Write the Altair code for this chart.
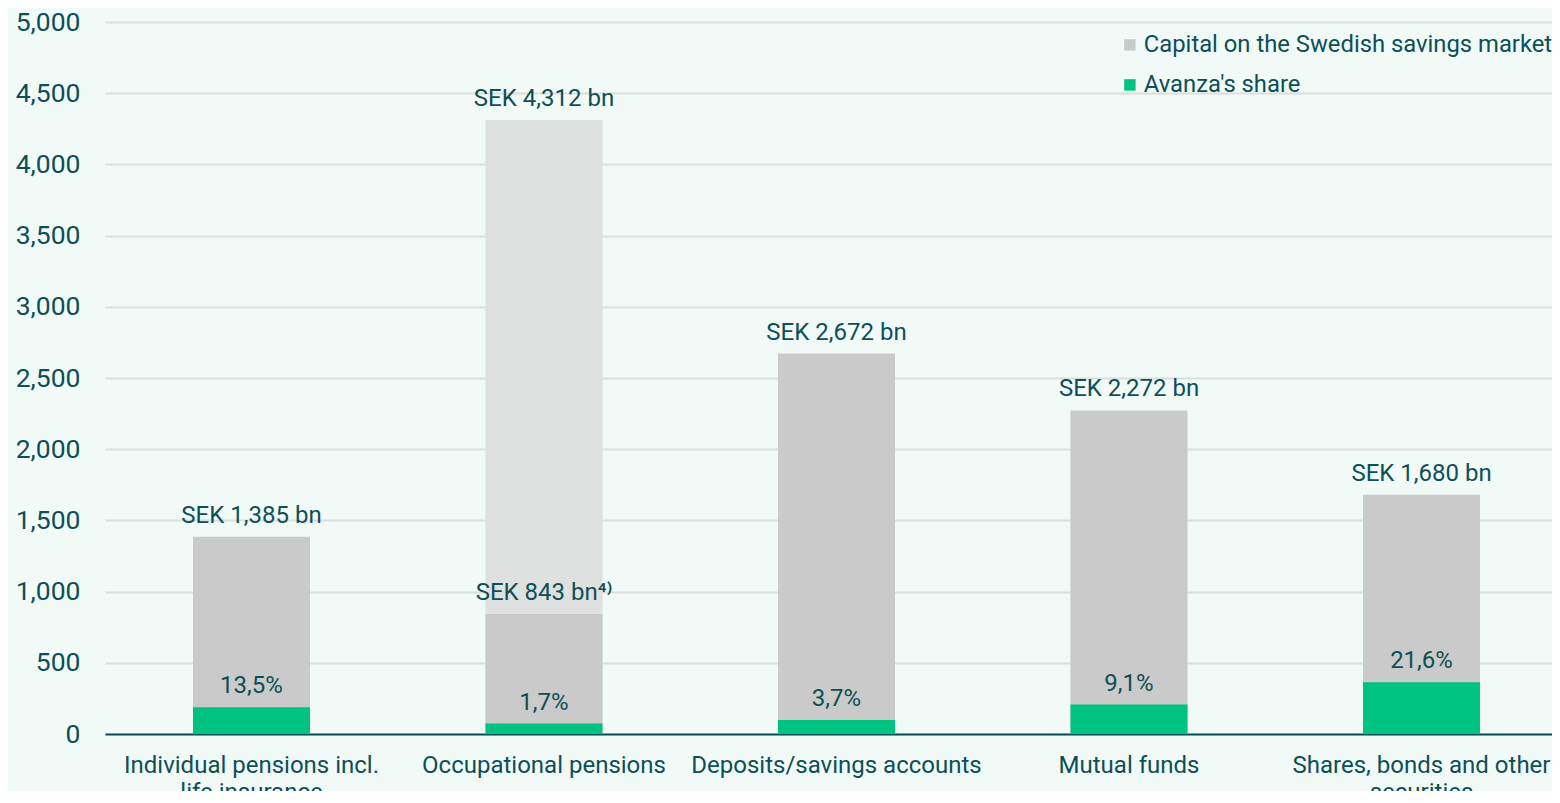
import altair as alt
import pandas as pd

categories = ["Individual pensions incl.\nlife insurance", "Occupational pensions",
              "Deposits/savings accounts", "Mutual funds", "Shares, bonds and other\nsecurities"]
capital = [1385, 843, 2672, 2272, 1680]
capital_labels = ["SEK 1,385 bn", "SEK 843 bn⁴⁾", "SEK 2,672 bn", "SEK 2,272 bn", "SEK 1,680 bn"]
share = [187, 73, 99, 207, 363]
share_labels = ["13,5%", "1,7%", "3,7%", "9,1%", "21,6%"]
total_cat = ["Occupational pensions"]
total_val = [4312]
total_labels = ["SEK 4,312 bn"]
series = ["Capital on the Swedish savings market", "Avanza's share"]
y_ticks = [0, 500, 1000, 1500, 2000, 2500, 3000, 3500, 4000, 4500, 5000]

TEXT = "#0d4f57"
FONT = "Roboto"
FS = 24

df_cap = pd.DataFrame({"cat": categories, "value": capital, "label": capital_labels, "series": series[0]})
df_share = pd.DataFrame({"cat": categories, "value": share, "label": share_labels, "series": series[1]})
df_tot = pd.DataFrame({"cat": total_cat, "value": total_val, "label": total_labels})

x = alt.X("cat:N", sort=categories, title=None,
          scale=alt.Scale(paddingInner=0.6, paddingOuter=0.2735, align=0.55),
          axis=alt.Axis(labelAngle=0, labelExpr="split(datum.label, '\\n')", labelFont=FONT,
                        labelFontSize=FS, labelColor=TEXT, labelPadding=19, labelLineHeight=27,
                        labelLimit=0, ticks=False, domainColor=TEXT, domainWidth=2, grid=False,
                        labelBaseline="top"))
y = alt.Y("value:Q", title=None, scale=alt.Scale(domain=[0, 5000]),
          axis=alt.Axis(values=y_ticks, labelExpr="format(datum.value, ',')", labelFont=FONT,
                        labelFontSize=26.5, labelColor=TEXT, labelPadding=25, ticks=False,
                        domain=False, gridColor="#dcdedd", gridWidth=2))

color = alt.Color("series:N", title=None,
                  scale=alt.Scale(domain=series, range=["#cacaca", "#00c281"]),
                  legend=alt.Legend(orient="none", legendX=1013, legendY=11, symbolType="square",
                                    symbolSize=130, symbolStrokeWidth=0, labelFont=FONT,
                                    labelFontSize=23.8, labelColor=TEXT, rowPadding=15,
                                    padding=0, labelOffset=2, labelLimit=0))

tot_bar = alt.Chart(df_tot).mark_bar(color="#dfe1e0").encode(x=x, y=y)
tot_txt = alt.Chart(df_tot).mark_text(font=FONT, fontSize=FS, color=TEXT, dy=-21).encode(
    x=x, y=y, text="label:N")
cap_bar = alt.Chart(df_cap).mark_bar().encode(x=x, y=y, color=color)
cap_txt = alt.Chart(df_cap).mark_text(font=FONT, fontSize=FS, color=TEXT, dy=-21).encode(
    x=x, y=y, text="label:N")
sh_bar = alt.Chart(df_share).mark_bar().encode(x=x, y=y, color=color)
sh_txt = alt.Chart(df_share).mark_text(font=FONT, fontSize=FS, color=TEXT, dy=-21).encode(
    x=x, y=y, text="label:N")

chart = alt.layer(tot_bar, cap_bar, sh_bar, tot_txt, cap_txt, sh_txt).properties(
    width=1447, height=712,
    autosize=alt.AutoSizeParams(type="none"),
    padding={"left": 97, "top": 14, "right": 0, "bottom": 57},
    background="#f1faf7",
).configure_view(stroke=None)

chart.save("out.html", embed_options={"renderer": "svg", "actions": False})
